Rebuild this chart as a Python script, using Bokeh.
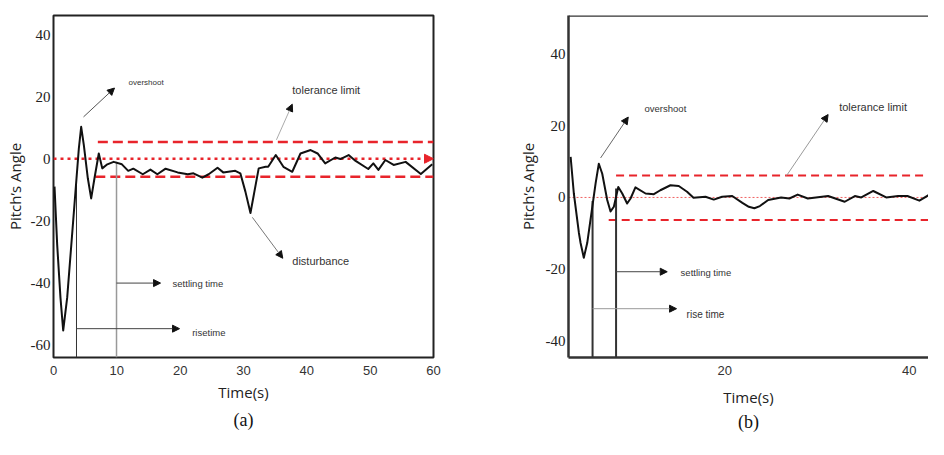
from bokeh.plotting import figure
from bokeh.models import Range1d, Arrow, NormalHead, Label, Span, FixedTicker, PrintfTickFormatter
from bokeh.layouts import row
from bokeh.embed import file_html
from bokeh.resources import INLINE

# ---------------- data: panel (a) ----------------
a_time = [0.16, 0.58, 1.1, 1.53, 2.16, 4.0, 4.37, 4.79, 5.42, 5.95, 6.47, 7.15, 7.7, 8.5,
          9.5, 10.8, 11.8, 12.6, 14.1, 15.3,
          16.4, 17.7, 19.6, 21.2, 22.1, 23.5, 24.5, 25.9, 26.8, 28.7, 29.5, 30.3, 31.1,
          32.4, 33.5, 33.9, 35.1, 36.3, 37.7, 39.0, 40.6, 41.7, 42.9, 44.5, 45.3, 46.6,
          47.7, 49.7, 50.5, 51.3, 52.4, 53.7, 55.6, 58.0, 59.8]
a_pitch = [-9.0, -27.7, -44.8, -55.4, -44.8, 3.3, 10.3, 4.4, -6.3, -12.8, -6.3, 1.7, -3.1, -1.8,
           -1.0, -1.8, -3.9, -3.2, -5.0, -3.5,
           -5.0, -3.2, -4.4, -5.0, -4.7, -6.1, -5.0, -2.9, -4.4, -3.9, -4.7, -10.6, -17.5,
           -3.1, -2.6, -2.6, 1.2, -2.6, -4.2, 1.7, 2.8, 1.7, -1.5, 0.4, -0.1, 1.2,
           -0.7, -3.3, -1.5, -3.6, -0.4, -2.0, -1.0, -4.9, -1.8]
a_x_ticks = [0, 10, 20, 30, 40, 50, 60]
a_y_ticks = [-60, -40, -20, 0, 20, 40]
a_tol_upper = 5.4
a_tol_lower = -5.8
a_rise_time = 3.63
a_settle_time = 9.95

# ---------------- data: panel (b) ----------------
b_time = [3.27, 3.62, 4.17, 4.35, 4.7, 5.07, 5.98, 6.33, 6.7, 7.24, 7.6, 7.96, 8.44, 8.87,
          9.4, 9.77, 10.3, 11.4, 12.3, 13.0, 14.1, 15.0, 15.9, 16.6,
          17.9, 18.8, 19.7, 20.8, 21.9, 22.6, 23.2, 23.8, 24.7, 26.1, 27.0, 27.9, 29.0,
          31.2, 33.0, 34.1, 34.8, 36.1, 37.5, 38.8, 39.8, 41.1, 42.4, 43.6]
b_pitch = [11.3, 1.1, -9.9, -12.7, -16.8, -12.7, 3.9, 9.4, 6.6, -0.7, -3.9, -2.6, 2.9, 1.1,
           -1.7, -0.3, 2.8, 1.1, 0.9, 2.0, 3.4, 3.2, 1.6, -0.1,
           0.2, -0.6, 0.2, 0.4, -1.5, -2.6, -3.0, -2.4, -0.7, 0.0, -0.3, 0.8, -0.3,
           0.4, -1.2, 0.4, 0.0, 1.8, 0.0, 0.4, 0.4, -0.9, 1.1, 0.4]
b_x_ticks = [20, 40]
b_y_ticks = [-40, -20, 0, 20, 40]
b_tol_upper = 6.1
b_tol_lower = -6.3
b_rise_time = 5.65
b_settle_time = 8.2

RED = "#e8242b"
AX_FONT = "Open Sans"
TXT_FONT = "Liberation Sans"


def style_axes(p, xt, yt):
    p.xaxis.ticker = FixedTicker(ticks=xt)
    p.yaxis.ticker = FixedTicker(ticks=yt)
    p.yaxis.formatter = PrintfTickFormatter(format="%d")
    for ax in (p.xaxis[0], p.yaxis[0]):
        ax.major_tick_line_color = None
        ax.minor_tick_line_color = None
        ax.major_tick_out = 0
        ax.major_tick_in = 0
        ax.minor_tick_out = 0
        ax.minor_tick_in = 0
        ax.axis_label_text_font = AX_FONT
        ax.axis_label_text_font_style = "normal"
        ax.axis_label_text_font_size = "15px"
        ax.axis_label_text_color = "#222222"
    p.xaxis.major_label_text_font = TXT_FONT
    p.xaxis.major_label_text_font_size = "13px"
    p.xaxis.major_label_text_color = "#333333"
    p.yaxis.major_label_text_font = "Liberation Serif"
    p.yaxis.major_label_text_font_size = "15px"
    p.yaxis.major_label_text_color = "#222222"
    p.xgrid.grid_line_color = None
    p.ygrid.grid_line_color = None
    p.title.text_font = "Liberation Serif"
    p.title.text_font_size = "18px"
    p.title.text_font_style = "normal"
    p.title.text_color = "#111111"
    p.title.align = "center"


def arrow(p, x0, y0, x1, y1, color, width=1.0):
    p.add_layout(Arrow(end=NormalHead(size=7, fill_color="#111111", line_color="#111111"),
                       x_start=x0, y_start=y0, x_end=x1, y_end=y1,
                       line_color=color, line_width=width))


def note(p, x, y, txt, size):
    p.add_layout(Label(x=x, y=y, text=txt, text_font=TXT_FONT, text_font_size=size,
                       text_color="#333333", text_baseline="middle", text_align="left"))


# ================= panel (a) =================
pa = figure(width=498, height=439, output_backend="svg", toolbar_location=None,
            x_range=Range1d(0, 60), y_range=Range1d(-64.1, 46.2),
            min_border_left=53, min_border_right=65, min_border_top=13, min_border_bottom=82,
            x_axis_label="Time(s)", y_axis_label="Pitch\u2019s Angle",
            title="(a)", title_location="below")
style_axes(pa, a_x_ticks, a_y_ticks)
pa.title.standoff = 6
pa.outline_line_color = "#222222"
pa.outline_line_width = 2
pa.xaxis.axis_line_color = None
pa.yaxis.axis_line_color = None
pa.xaxis.major_label_standoff = 8
pa.xaxis.axis_label_standoff = 4
pa.yaxis.major_label_standoff = 3
pa.yaxis.axis_label_standoff = 3

# reference & tolerance lines
pa.line([0, 59], [0, 0], line_color=RED, line_width=2.5, line_dash="3 4")
pa.add_layout(Arrow(end=NormalHead(size=9, fill_color=RED, line_color=RED),
                    x_start=58.0, y_start=0, x_end=60, y_end=0, line_alpha=0))
pa.line([7.0, 60], [a_tol_upper, a_tol_upper], line_color=RED, line_width=2.5, line_dash="10 5")
pa.line([6.6, 60], [a_tol_lower, a_tol_lower], line_color=RED, line_width=2.5, line_dash="10 5")

# rise / settling markers
pa.segment(x0=[a_rise_time], y0=[-64.1], x1=[a_rise_time], y1=[-4.5], line_color="#333333", line_width=1)
pa.segment(x0=[a_settle_time], y0=[-64.1], x1=[a_settle_time], y1=[-1.0], line_color="#999999", line_width=1.5)

# response curve
pa.line(a_time, a_pitch, line_color="#111111", line_width=2, line_join="round")

# annotations
arrow(pa, 4.74, 13.5, 9.63, 22.8, "#555555")
note(pa, 11.84, 24.7, "overshoot", "8px")
arrow(pa, 35.2, 6.1, 37.7, 17.6, "#aaaaaa")
note(pa, 37.7, 22.1, "tolerance limit", "11px")
arrow(pa, 31.4, -18.9, 36.2, -32.1, "#777777")
note(pa, 37.7, -33.0, "disturbance", "11px")
arrow(pa, a_settle_time, -40.1, 16.9, -40.1, "#444444")
note(pa, 18.8, -40.1, "settling time", "9.5px")
arrow(pa, a_rise_time, -54.8, 19.9, -54.8, "#444444")
note(pa, 21.9, -56.1, "risetime", "9.5px")

# ================= panel (b) =================
B_XEND = 42.09
pb = figure(width=430, height=439, output_backend="svg", toolbar_location=None,
            x_range=Range1d(3.04, B_XEND), y_range=Range1d(-44.6, 50.7),
            min_border_left=70, min_border_right=0, min_border_top=15, min_border_bottom=78,
            x_axis_label="Time(s)", y_axis_label="Pitch\u2019s Angle",
            title="(b)", title_location="below")
style_axes(pb, b_x_ticks, b_y_ticks)
pb.title.standoff = 0
pb.outline_line_color = None
pb.xaxis.axis_line_color = "#333333"
pb.xaxis.axis_line_width = 2.5
pb.yaxis.axis_line_color = "#333333"
pb.yaxis.axis_line_width = 2.5
pb.add_layout(Span(location=50.7, dimension="width", line_color="#333333", line_width=2.5))
pb.xaxis.major_label_standoff = 8
pb.xaxis.axis_label_standoff = 9
pb.yaxis.major_label_standoff = 3
pb.yaxis.axis_label_standoff = 5

pb.line([3.04, B_XEND], [0, 0], line_color="#f06060", line_width=1, line_dash="2 2")
pb.line([8.2, B_XEND], [b_tol_upper, b_tol_upper], line_color=RED, line_width=2, line_dash="8 5")
pb.line([7.4, B_XEND], [b_tol_lower, b_tol_lower], line_color=RED, line_width=2, line_dash="8 5")

pb.segment(x0=[b_rise_time], y0=[-44.6], x1=[b_rise_time], y1=[-1.0], line_color="#333333", line_width=2)
pb.segment(x0=[b_settle_time], y0=[-44.6], x1=[b_settle_time], y1=[2.5], line_color="#333333", line_width=2)

pb.line(b_time, b_pitch, line_color="#111111", line_width=2, line_join="round")

arrow(pb, 6.52, 11.0, 9.52, 22.4, "#666666")
note(pb, 11.29, 24.8, "overshoot", "9.5px")
arrow(pb, 26.7, 6.1, 31.2, 23.1, "#999999")
note(pb, 32.4, 25.3, "tolerance limit", "11px")
arrow(pb, b_settle_time, -20.7, 13.75, -20.7, "#444444")
note(pb, 15.2, -20.9, "settling time", "9.5px")
arrow(pb, b_rise_time, -31.0, 14.76, -31.0, "#999999")
note(pb, 15.85, -32.5, "rise time", "10px")

layout = row(pa, pb)
open("out.html", "w").write(file_html(layout, INLINE))
